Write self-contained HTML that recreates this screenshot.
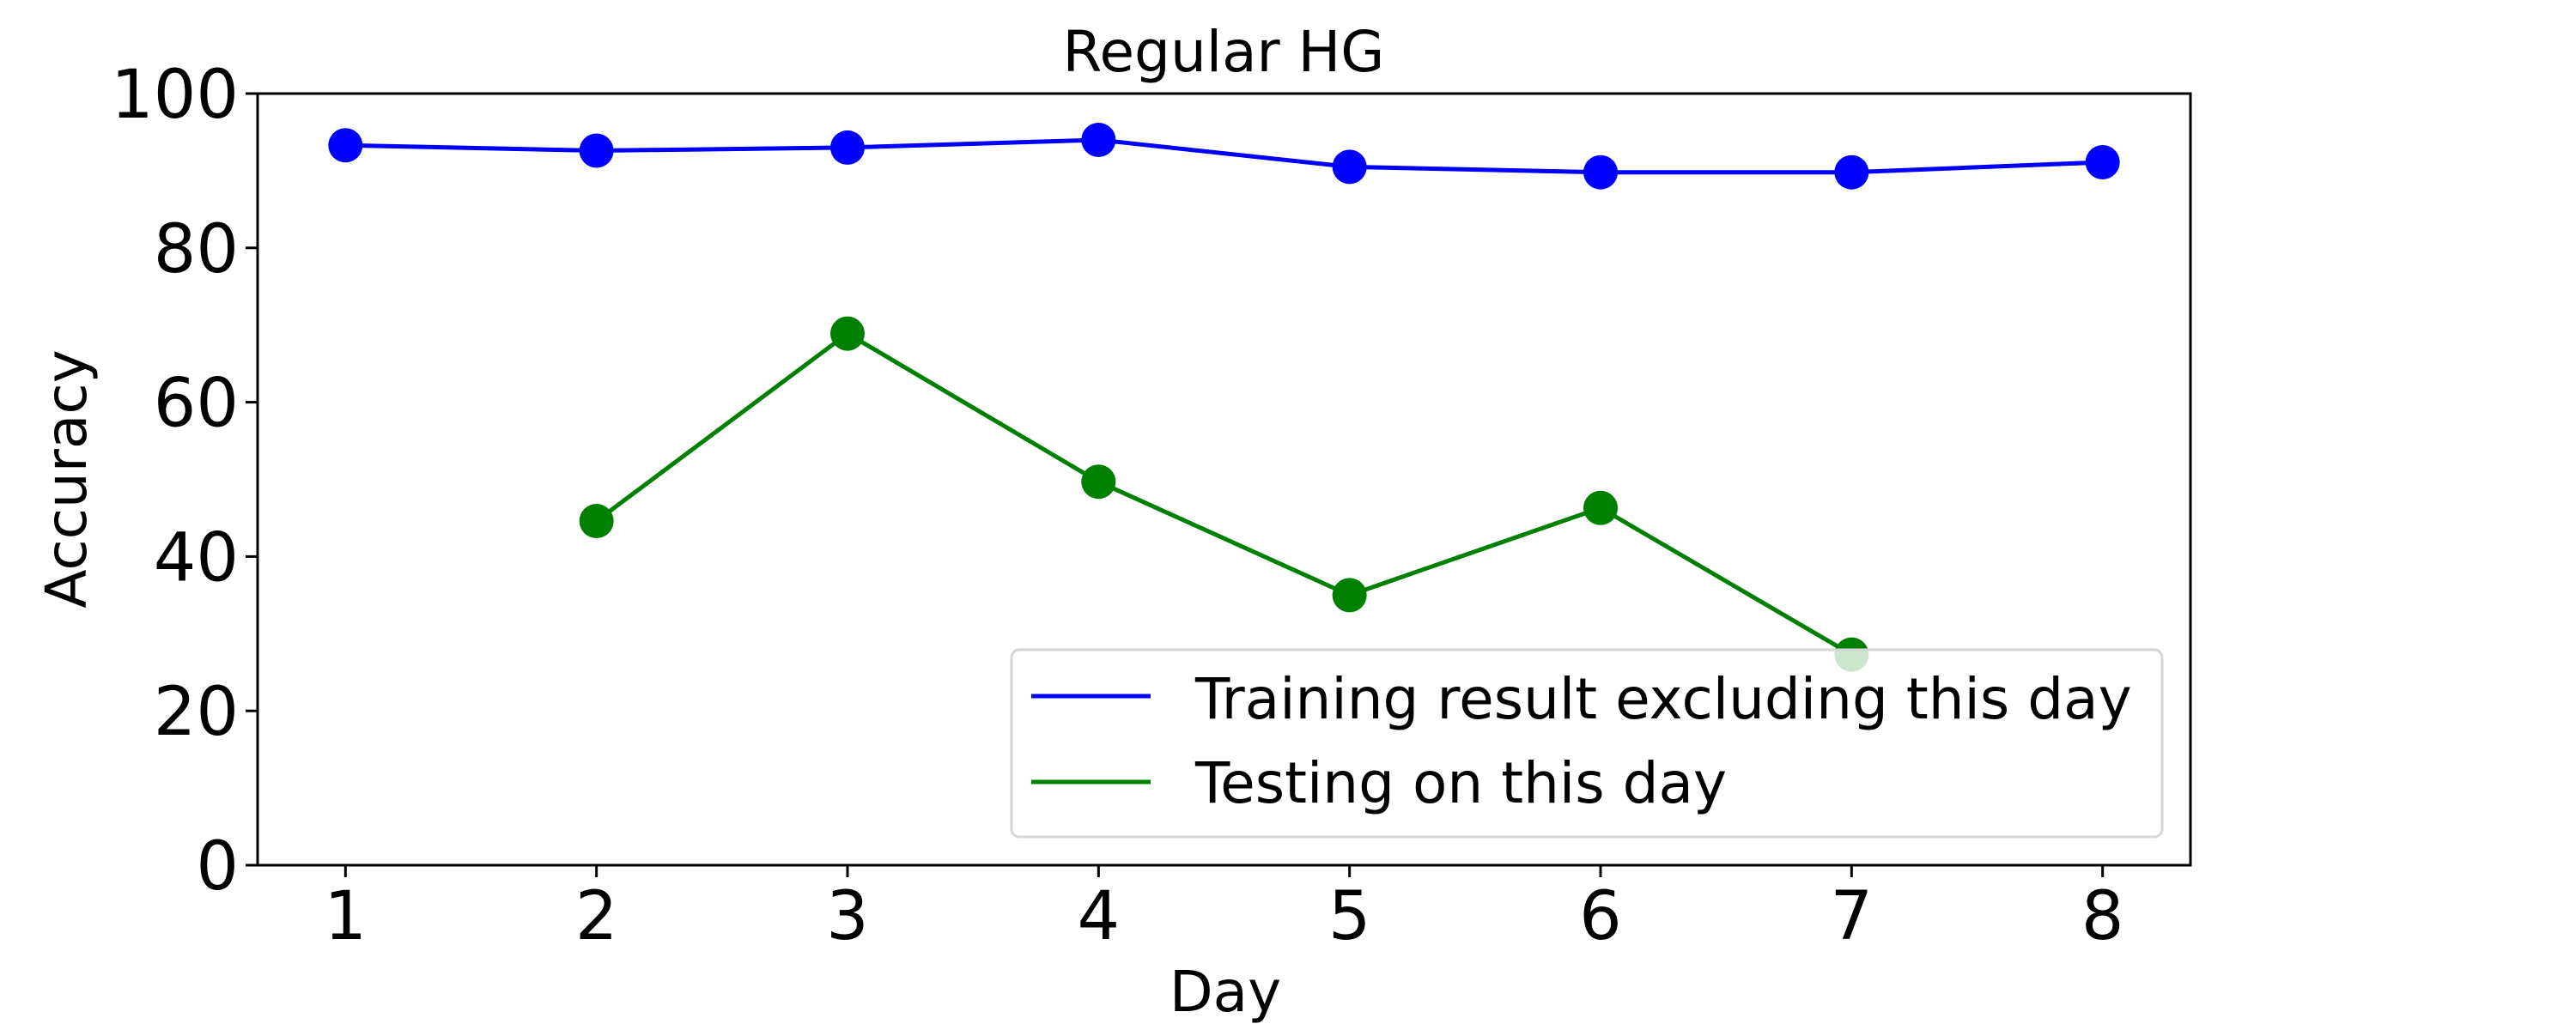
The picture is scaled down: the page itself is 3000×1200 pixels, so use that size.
<!DOCTYPE html>
<html><head><meta charset="utf-8"><style>
html,body{margin:0;padding:0;background:#fff}
svg{display:block;font-family:"DejaVu Sans","Liberation Sans",sans-serif}
</style></head><body>
<svg id="chart" width="3000" height="1200" viewBox="0 0 3000 1200" xmlns="http://www.w3.org/2000/svg">
<rect width="3000" height="1200" fill="#fff"/>
<text x="1425" y="83" font-size="66" text-anchor="middle">Regular HG</text>
<g id="plot"></g>
<text x="1427" y="1178" font-size="66" text-anchor="middle">Day</text>
<text x="0" y="0" font-size="66" text-anchor="middle" transform="translate(100,558) rotate(-90)">Accuracy</text>
</svg>
<script>
const days = [1,2,3,4,5,6,7,8];
const trainValues = [93.3, 92.6, 93.0, 94.0, 90.5, 89.8, 89.8, 91.1];
const testDays = [2,3,4,5,6,7];
const testValues = [44.6, 68.9, 49.7, 35.0, 46.3, 27.3];
const yTicks = [0,20,40,60,80,100];
const xTicks = [1,2,3,4,5,6,7,8];

const L=300,R=2551,T=109,B=1008;
const xmin=0.65,xmax=8.35,ymin=0,ymax=100;
function xs(v){return L+(v-xmin)/(xmax-xmin)*(R-L);}
function ys(v){return B-(v-ymin)/(ymax-ymin)*(B-T);}
const NS="http://www.w3.org/2000/svg";
const g=document.getElementById('plot');
function mk(tag,attrs,parent){const e=document.createElementNS(NS,tag);for(const k in attrs)e.setAttribute(k,attrs[k]);(parent||g).appendChild(e);return e;}

yTicks.forEach(v=>{
  const t=mk('line',{x1:L-14,x2:L,y1:ys(v),y2:ys(v),stroke:'#000','stroke-width':3});
  
  
  const l=mk('text',{x:L-22,y:ys(v)+28,'font-size':78,'text-anchor':'end'});
  l.textContent=v;
  
  
});
xTicks.forEach(v=>{
  const t=mk('line',{x1:xs(v),x2:xs(v),y1:B,y2:B+14,stroke:'#000','stroke-width':3});
  
  
  const l=mk('text',{x:xs(v),y:1094,'font-size':78,'text-anchor':'middle'});
  l.textContent=v;
  
  
});

function series(xv,yv,color,name){
  const pts=xv.map((d,i)=>xs(d)+','+ys(yv[i])).join(' ');
  const pl=mk('polyline',{points:pts,fill:'none',stroke:color,'stroke-width':5,'stroke-linejoin':'round'});
  
  
  xv.forEach((d,i)=>{
    const c=mk('circle',{cx:xs(d),cy:ys(yv[i]),r:20,fill:color});
    
    
  });
}
series(days,trainValues,'#0000ff','training');
series(testDays,testValues,'#008000','testing');

const frame=mk('rect',{x:L,y:T,width:R-L,height:B-T,fill:'none',stroke:'#000','stroke-width':3});



const lg=mk('g',{});


const box=mk('rect',{x:1178,y:757,width:1340,height:218,rx:9,fill:'rgba(255,255,255,0.8)',stroke:'#d6d6d6','stroke-width':3},lg);


const items=[['#0000ff','Training result excluding this day',811,837],['#008000','Testing on this day',911,935]];
items.forEach(it=>{
  const ln=mk('line',{x1:1201,x2:1340,y1:it[2],y2:it[2],stroke:it[0],'stroke-width':5},lg);
  
  
  const tx=mk('text',{x:1392,y:it[3],'font-size':66},lg);
  tx.textContent=it[1];
  
  
});
</script>
</body></html>
